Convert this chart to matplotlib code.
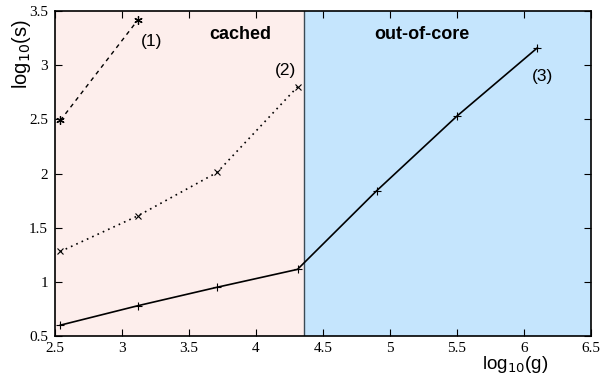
import matplotlib
matplotlib.use("Agg")
import matplotlib.pyplot as plt

# data
s1_x = [2.54, 3.12]
s1_y = [2.49, 3.42]
s2_x = [2.54, 3.12, 3.71, 4.31]
s2_y = [1.28, 1.61, 2.01, 2.80]
s3_x = [2.54, 3.12, 3.71, 4.31, 4.90, 5.50, 6.10]
s3_y = [0.60, 0.78, 0.95, 1.115, 1.84, 2.53, 3.16]
boundary = 4.36
xticks = [2.5, 3, 3.5, 4, 4.5, 5, 5.5, 6, 6.5]
yticks = [0.5, 1, 1.5, 2, 2.5, 3, 3.5]

fig = plt.figure(figsize=(6.03, 3.76), dpi=100)
ax = fig.add_axes([0.0912, 0.1064, 0.9889 - 0.0912 - 0.0089, 0.9707 - 0.1064])
ax.set_xlim(2.5, 6.5)
ax.set_ylim(0.5, 3.5)

ax.axvspan(2.5, boundary, color="#FDEEEC", zorder=0, lw=0)
ax.axvspan(boundary, 6.5, color="#C5E5FD", zorder=0, lw=0)
ax.axvline(boundary, color="#3a4a55", lw=1.0, zorder=1)

ax.plot(s1_x, s1_y, color="black", ls=(0, (3, 3)), lw=1.0, marker=(6, 2, 0), ms=6, mew=0.9)
ax.plot(s2_x, s2_y, color="black", ls=(0, (1, 2.5)), lw=1.2, marker="x", ms=5, mew=0.8)
ax.plot(s3_x, s3_y, color="black", ls="-", lw=1.2, marker="+", ms=6, mew=0.8)

ax.set_xticks(xticks)
ax.set_yticks(yticks)
ax.set_xticklabels([f"{t:g}" for t in xticks], family="Liberation Serif", fontsize=11)
ax.set_yticklabels([f"{t:g}" for t in yticks], family="Liberation Serif", fontsize=11)
ax.tick_params(axis="x", direction="in", top=True, length=5, width=0.8, pad=4)
ax.tick_params(axis="y", direction="in", right=True, length=5, width=0.8, pad=5)
for sp in ax.spines.values():
    sp.set_linewidth(1.2)

ax.text(3.88, 3.28, "cached", family="Liberation Sans", weight="bold", fontsize=13, ha="center", va="center")
ax.text(5.24, 3.28, "out-of-core", family="Liberation Sans", weight="bold", fontsize=13, ha="center", va="center")
ax.text(3.22, 3.22, "(1)", family="Liberation Sans", fontsize=12.5, ha="center", va="center")
ax.text(4.22, 2.95, "(2)", family="Liberation Sans", fontsize=12.5, ha="center", va="center")
ax.text(6.14, 2.90, "(3)", family="Liberation Sans", fontsize=12.5, ha="center", va="center")

fig.text(0.855, 0.003, r"log$_{10}$(g)", family="Liberation Sans", fontsize=13.5, ha="center", va="bottom")
fig.text(0.035, 0.855, r"log$_{10}$(s)", family="Liberation Sans", fontsize=14.5, ha="center", va="center", rotation=90)

fig.savefig("out.png", dpi=100)
